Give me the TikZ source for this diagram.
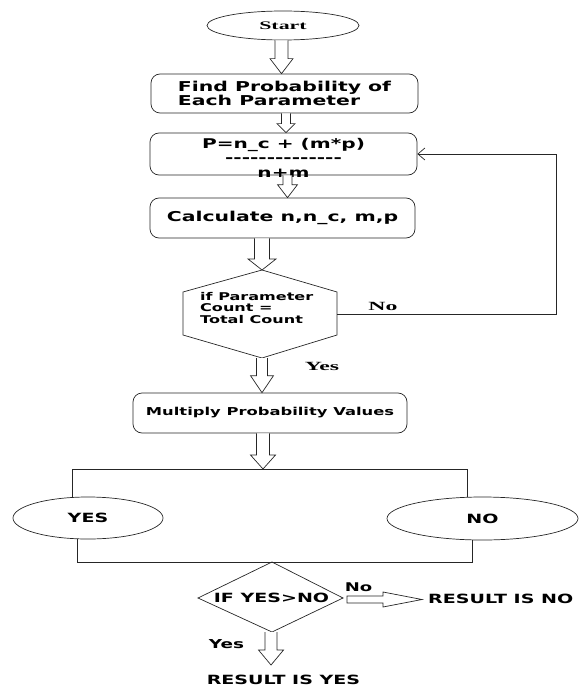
\documentclass[tikz,border=0pt]{standalone}
\usepackage{fontspec}
\usetikzlibrary{shapes.geometric,calc,arrows.meta}
\newfontfamily\bsans{DejaVu Sans}[FakeStretch=1.5]
\newfontfamily\bserif{Liberation Serif}[FakeStretch=1.9]
\newcommand\hyp{\mbox{-}}
% vertical hollow arrow: source (y), target (tip y), x, half shaft, half head, head length
\newcommand\varrow[6]{%
  \draw[blockarr] let \p1=(#1), \p2=(#2) in
    (#3-#4,\y1) -- (#3-#4,\y2+#6) -- (#3-#5,\y2+#6) -- (#3,\y2)
    -- (#3+#5,\y2+#6) -- (#3+#4,\y2+#6) -- (#3+#4,\y1);}
% horizontal hollow arrow: source (x), target (tip x), y, half shaft, half head, head length
\newcommand\harrow[6]{%
  \draw[blockarr] let \p1=(#1), \p2=(#2) in
    (\x1,#3+#4) -- (\x2-#6,#3+#4) -- (\x2-#6,#3+#5) -- (\x2,#3)
    -- (\x2-#6,#3-#5) -- (\x2-#6,#3-#4) -- (\x1,#3-#4) -- cycle;}
\tikzset{
  line/.style={draw=black!85, line width=0.7pt},
  pbox/.style={line, rounded corners=9pt, inner sep=0pt},
  blockarr/.style={line, fill=white, line join=miter},
  oval/.style={line, ellipse, inner sep=0pt},
  big/.style={font=\bsans\bfseries\fontsize{13.6}{14}\selectfont},
  mid/.style={font=\bsans\bfseries\fontsize{12.7}{14}\selectfont},
  serif/.style={font=\bserif\bfseries\fontsize{12.5}{14}\selectfont},
}
\begin{document}
\begin{tikzpicture}[x=1pt,y=1pt]
\useasboundingbox (0,0) rectangle (582,-687);

% start
\node[oval, minimum width=152pt, minimum height=29pt,
      font=\bserif\bfseries\fontsize{11.5}{12}\selectfont] (start) at (283,-25.5) {Start};

% boxes
\node[pbox, big, align=left, minimum width=267pt, minimum height=39pt] (b1) at (284.5,-93.5)
  {Find Probability of\\Each Parameter};
\node[pbox, minimum width=267pt, minimum height=42pt] (b2) at (283.5,-154) {};
\node[big, align=center, inner sep=0pt, font=\bsans\bfseries\fontsize{13.4}{14.5}\selectfont] (t2) at (283.5,-157.5)
  {P=n\_c + (m*p)\\\hyp\hyp\hyp\hyp\hyp\hyp\hyp\hyp\hyp\hyp\hyp\hyp\hyp\hyp\\n+m};
\node[pbox, big, minimum width=265pt, minimum height=40pt] (b3) at (282.5,-218)
  {Calculate n,n\_c, m,p};

% hexagon
\coordinate (hT) at (262,-270);
\coordinate (hR1) at (337,-292);
\coordinate (hR2) at (337,-335);
\coordinate (hB) at (262,-358);
\coordinate (hL2) at (183,-335);
\coordinate (hL1) at (183,-292);
\draw[line] (hT) -- (hR1) -- (hR2) -- (hB) -- (hL2) -- (hL1) -- cycle;
\node[inner sep=0pt, anchor=west, align=left,
      font=\bsans\bfseries\fontsize{10.7}{11.7}\selectfont] (ht) at (200,-308)
  {if Parameter\\Count =\\Total Count};

% loop back
\coordinate (hE) at (337,-314);
\coordinate (c1) at (556,-314);
\coordinate (c2) at (556,-154);
\draw[line, -{Straight Barb[length=7pt,width=12pt]}] (hE) -- (c1) -- (c2) -- (b2.east);
\node[serif] (nolab) at (383,-306) {No};
\node[serif] (yeslab) at (322,-366) {Yes};

% multiply
\node[pbox, minimum width=274pt, minimum height=40pt,
      font=\bsans\bfseries\fontsize{10.9}{12}\selectfont] (b4) at (270,-413)
  {Multiply Probability Values};

% split
\node[oval, mid, minimum width=150pt, minimum height=42pt] (yes) at (88,-518) {YES};
\node[oval, mid, minimum width=191pt, minimum height=43pt] (no) at (482.5,-518.5) {NO};
\coordinate (barL) at (72,-469);
\coordinate (barR) at (467,-469);
\draw[line] (barL |- yes.north) -- (barL) -- (barR) -- (barR |- no.north);
\coordinate (botL) at (77,-562);
\coordinate (botR) at (472,-562);
\draw[line] (botL |- yes.south) -- (botL) -- (botR) -- (botR |- no.south);

% diamond
\coordinate (dT) at (272,-562);
\coordinate (dL) at (198,-598);
\coordinate (dR) at (343,-598);
\coordinate (dB) at (272,-632);
\draw[line] (dT) -- (dR) -- (dB) -- (dL) -- cycle;
\node[mid, inner sep=0pt] (dtext) at (271.5,-598) {IF YES>NO};

\node[mid, inner sep=0pt, anchor=west] (resno) at (428,-599) {RESULT IS NO};
\node[mid, inner sep=0pt, anchor=base] (resyes) at (283.5,-684) {RESULT IS YES};
\node[font=\bsans\bfseries\fontsize{12}{12}\selectfont, inner sep=0pt] (nob) at (358.5,-587) {No};
\node[font=\bsans\bfseries\fontsize{12.3}{12}\selectfont, inner sep=0pt] (yesb) at (226.5,-644) {Yes};
\coordinate (dRs) at (347,-599);
\coordinate (tipN) at (422,-599);
\coordinate (tipY) at (271,-665);

% block arrows
\varrow{start.south}{b1.north}{281.5pt}{6.5pt}{11.5pt}{15pt}
\varrow{b1.south}{b2.north}{286pt}{4.5pt}{9pt}{9pt}
\varrow{b2.south}{b3.north}{287.5pt}{4.5pt}{10pt}{13pt}
\varrow{b3.south}{hT}{262pt}{7.5pt}{14pt}{11pt}
\varrow{hB}{b4.north}{262pt}{5.5pt}{11.5pt}{17pt}
\varrow{b4.south}{barL}{263pt}{6.5pt}{12.5pt}{14pt}
\harrow{dRs}{tipN}{-599.5pt}{3.5pt}{7.5pt}{39pt}
\varrow{dB}{tipY}{271pt}{6pt}{12.5pt}{15pt}
\end{tikzpicture}
\end{document}
